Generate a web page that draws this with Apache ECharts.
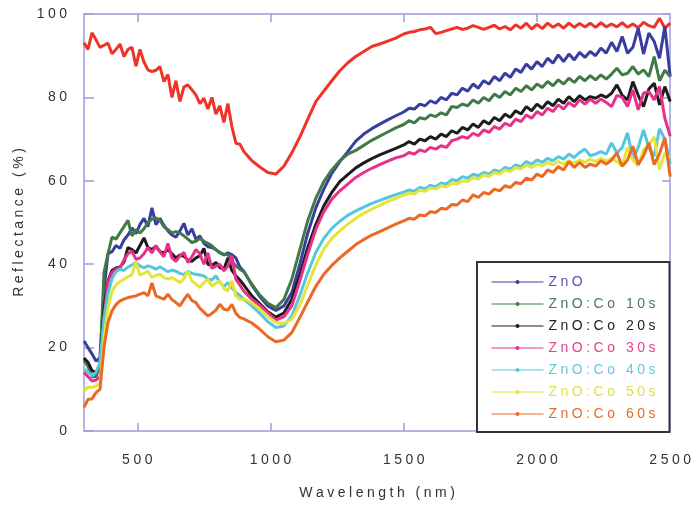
<!DOCTYPE html>
<html><head><meta charset="utf-8">
<script src="https://cdn.jsdelivr.net/npm/echarts@6/dist/echarts.min.js"></script>
<style>html,body{margin:0;padding:0;background:#fff}#c{width:694px;height:505px}</style>
</head><body><div id="c"></div>
<script>
// ---- DATA ----
const wavelength = [
  300,315,330,345,360,375,390,405,420,435,450,465,480,495,510,525,540,555,570,585,600,615,630,645,660,675,690,705,720,735,750,765,780,795,810,825,840,855,870,885,900,
  930,960,990,1020,1050,1080,1110,1140,1170,1200,1230,1260,1290,1320,1350,1380,1410,1440,1470,1500,
  1520,1540,1560,1580,1600,1620,1640,1660,1680,1700,1720,1740,1760,1780,1800,1820,1840,1860,1880,1900,1920,1940,1960,1980,2000,2020,2040,2060,2080,2100,2120,2140,2160,2180,2200,2220,2240,2260,2280,2300,2320,2340,2360,2380,2400,2420,2440,2460,2480,2500
];
const seriesNames = ['ZnO','ZnO:Co 10s','ZnO:Co 20s','ZnO:Co 30s','ZnO:Co 40s','ZnO:Co 50s','ZnO:Co 60s'];
const refName = 'Reference';
const refValues = [
  93.1,91.5,95.5,93.8,92,92.5,93,90.5,91.5,92.8,89.8,91.5,92,87.5,91.5,88.5,86.6,86.2,86.5,87.4,83.8,85.5,80,84,79,82.5,83,81.8,80.6,78.5,79.8,77.2,80,76,78,74,78.5,73,69,68.8,67,
  64.8,63.3,62,61.6,63.5,66.7,70.5,74.8,79,81.5,84,86.4,88.3,89.8,91,92.2,92.8,93.5,94.2,95.2,
  95.6,95.8,96.2,96.4,96.8,95.3,95.6,96,96.4,96.8,96.3,96.6,97.2,96.8,96.3,96.8,97.3,96.4,97,96.2,97.4,96.6,97.8,96.4,97.5,96.5,97.8,96.8,97.6,96.6,97.8,96.8,97.7,96.9,97.8,96.8,97.9,96.9,97.6,96.9,97.9,96.8,97.6,96.7,98,97.2,96.8,99,96.6,97.8
];
const znO = [
  21.6,20,18.5,16.8,17.5,34,42.5,43,44.5,43.8,45.8,47,48.7,47.3,49.5,51,49,53.5,49.5,51,49.3,48,47,46.5,48,49.8,47,48.5,46,46.8,45,44.2,44,43.5,42.8,42.2,42.7,42.3,41.5,39.3,38.3,
  35,32.2,30,28.9,30,33.2,40,47.5,53.5,58,61.8,64.6,67,69.5,71.2,72.5,73.6,74.6,75.6,76.5,
  77.4,77.2,78.4,78,79.2,78.6,80,79.4,81,80.6,82.2,81.5,83.2,82.2,84,83.2,85,84,85.8,84.8,86.8,86,88,86.8,88.6,87.4,89.4,88.2,90.2,88.6,90.4,89,90.8,89.6,91,90,91.8,90.6,93.2,91,94.6,90.6,92,96.6,90.4,95.4,93.4,89.4,97,85
];
const co10 = [
  17,15.5,13,13,16,38,42.5,46.5,46,47.5,49,50.5,46.8,48.3,47.5,48.5,50,50.8,51.1,50.5,49,48.3,47.5,47.8,47.5,46.8,46,45.2,45.5,46.2,45.5,45,44.4,43.5,42.7,42.4,42.3,40.6,39.6,38.8,38.2,
  35.2,32.6,30.6,29.6,31.5,36.4,43.5,50.5,55.8,59.8,62.6,64.8,66.4,67.3,68.5,69.7,70.7,71.7,72.7,73.5,
  74.4,73.9,75.1,74.8,75.8,75.4,76.3,75.8,77.8,77.6,78.4,78,79.4,78.6,80,79.2,80.8,80,81.4,80.6,82.2,81.4,82.8,81.8,83.2,82.4,83.8,82.8,84.2,83.2,84.6,83.6,85,84,85.2,84.2,85.4,84.4,85.6,87,85.4,85.8,87.4,85.6,86.6,85,89.8,84,86.5,85
];
const co20 = [
  17.5,16.5,14.5,14,15.6,29,36,38.5,39.1,39.3,40.5,44,43.5,42.7,44.5,46.3,44,43.5,44.3,43,42.7,43.5,42.5,41.5,42.2,41.9,41,40.7,41.5,42,43.8,40,39.7,40.4,39.2,38.8,41.5,38.5,37.2,36.2,35,
  32.4,30.5,28.6,27.3,28.3,31.6,37.5,44,49.5,54,57.2,59.8,61.5,63.1,64.3,65.3,66.2,67,67.8,68.6,
  69.4,68.8,70,69.6,70.6,70,71.2,70.6,72,71.4,72.8,72.2,73.6,72.8,74.4,73.6,75.2,74.4,76,75.2,76.8,76,77.8,76.8,78.4,77.4,79,78,79.6,78.6,80.2,79,80.4,79.4,80.2,79.8,80.6,80,81,83,80.5,79.4,83.8,80.5,77.8,82,83.4,78.2,82.6,79
];
const co30 = [
  14.1,13,12,12.2,13,27,35.8,38,38.8,39.1,41,42.5,43.1,41.2,41.5,42.5,44,42.7,44.5,43,41.8,45,41.5,40.7,42,42.8,40.4,41.8,43.5,42.5,40,42.7,39,39.5,40,38.4,39.5,42,36.4,35,33.5,
  31.6,30.1,28.4,26.6,27.4,30,36,42.5,48.4,52.6,55.6,57.6,59.2,60.8,62,63,63.9,64.7,65.5,66,
  66.8,66.4,67.4,67,68,67.6,68.4,68,69.6,70,70.6,70.2,71.4,70.8,72.2,71.6,73,72.4,73.8,73.2,74.8,74.2,75.8,75,76.6,75.8,77.4,76.6,78.2,77.2,78.8,77.8,79.4,78.4,79.6,78.6,79.6,78.8,77.8,80.5,80,77.8,81.8,77,81,81.4,79.4,82.6,75,70.7
];
const co40 = [
  14.8,14.2,13.2,14,16.5,27,33,36.5,38.2,38.8,38.5,39.3,39.8,40.4,39.6,39.1,39.6,39.3,38.8,39.4,38.8,38.2,38.6,38.3,37.8,37.5,38.3,37.8,37.6,37.4,37.2,36.4,36.2,37.2,35.6,34.6,35.6,34.3,33.2,32.5,31.6,
  30,28.2,26.2,24.8,25.2,27.6,32.5,38,42.8,46.2,48.6,50.3,51.7,52.8,53.7,54.6,55.3,56,56.7,57.3,
  57.8,57.5,58.4,58.1,58.9,58.6,59.5,59.2,60.3,60,61,60.6,61.6,61.2,62,61.6,62.6,62.2,63.2,62.8,63.8,63.4,64.6,64,65,64.4,65.4,64.8,65.8,65.2,66.4,65.6,66.8,67.6,66,66.4,67,66.4,69.1,66.7,68,71.5,65.1,68,72.2,68,65.9,72.5,70,64
];
const co50 = [
  9.6,10.5,10.5,10.8,11.5,22,29.5,33.5,35,35.8,36.4,37,37.5,40.5,37.4,37.8,38.3,36.8,37.3,37.6,36.8,36.4,36.8,36.2,35.6,36.5,38.3,36,35.2,34.4,35.6,36.4,34.8,35.4,36,34.2,33.6,36,32.4,31.6,31.6,
  30.7,29.2,27.4,26,25.8,26.8,30.2,35,39.8,43.6,46.2,48,49.6,51,52.2,53.2,54.1,55,55.8,56.6,
  57,56.8,57.8,57.5,58.3,58,58.8,58.5,59.4,59.2,60,59.8,60.8,60.4,61.4,61,62,61.6,62.6,62.2,63.2,62.8,63.8,63.2,64,63.6,64.4,63.8,64.6,64,64.8,64.2,65,64.4,65.2,64.6,65.4,64.8,65.4,64.6,63.5,68,65,63.6,67.5,68.6,70.5,62.7,66.7,65.5
];
const co60 = [
  5.7,7.6,7.7,9.2,10,20,26,28.8,30.3,31.2,31.6,32,32.2,32.4,32.8,33.2,32.4,35.5,32.4,32,31.6,32.8,31.5,30.8,30,31.5,32.8,31.3,30.8,29.4,28.5,27.6,28.2,29,30.4,29.2,29,30.4,28.2,27.2,26.9,
  25.9,24.4,22.6,21.4,21.8,23.6,27.2,31,34.7,37.6,39.7,41.5,43.1,44.7,45.9,47,47.8,48.7,49.6,50.4,
  51,50.8,51.8,51.6,52.6,52.4,53.4,53.2,54.3,54.2,55.4,55,56.6,56,57.2,56.8,58,57.6,58.8,58.4,59.6,59.3,60.6,60.2,61.6,61,62.6,62,63.4,62.6,64.6,63.2,64.4,63.2,64,63.5,64.8,64,65,66.7,63.5,65,68.3,63.9,66,69.1,63.9,66.5,70.3,61
];
const xLabelValues = [500,1000,1500,2000,2500];
const xTickValues = [500,1000,1500,2000];

// ---- STYLE ----
const lineColors = ['#383ea0','#3f7a47','#1c1c1c','#e8308a','#56c6e0','#e4e43a','#ea6a25'];
const legendTextColors = ['#5555b5','#4a7a52','#222222','#e8408f','#66c8e0','#e0e048','#e86a2a'];
const refColor = '#ee3327';
const frameColor = '#9d9ddc';
const sp = s => String(s).split('').join('\u2005');
const allVals = [znO, co10, co20, co30, co40, co50, co60];

const series = [{
  name: refName, type:'line', showSymbol:false, symbol:'none',
  data: wavelength.map((w,i)=>[w, refValues[i]]),
  lineStyle:{color:refColor, width:3}, itemStyle:{color:refColor}, z:2
}];
seriesNames.forEach((n,k)=>{
  series.push({
    name:n, type:'line', showSymbol:false, symbol:'circle', symbolSize:4,
    data: wavelength.map((w,i)=>[w, allVals[k][i]]),
    lineStyle:{color:lineColors[k], width:3}, itemStyle:{color:lineColors[k]}, z:3+k
  });
});

const axisTxt = {color:'#333', fontSize:14, fontFamily:'Liberation Sans, Arial, sans-serif'};
const chart = echarts.init(document.getElementById('c'), null, {renderer:'canvas'});
chart.setOption({
  animation:false,
  backgroundColor:'#fff',
  grid:{left:84, right:20, top:14, bottom:73},
  xAxis:[{
    type:'value', position:'bottom', min:300, max:2500,
    axisLine:{onZero:false, lineStyle:{color:frameColor, width:1.5}},
    axisTick:{inside:true, length:8, customValues:xTickValues, lineStyle:{color:frameColor, width:1.5}},
    axisLabel:Object.assign({margin:22, customValues:xLabelValues, formatter:v=>sp(v)}, axisTxt),
    splitLine:{show:false},
    name:sp('Wavelength (nm)'), nameLocation:'middle', nameGap:55,
    nameTextStyle:axisTxt
  },{
    type:'value', position:'top', min:300, max:2500,
    axisLine:{onZero:false, lineStyle:{color:frameColor, width:1.5}},
    axisTick:{inside:true, length:8, customValues:xTickValues, lineStyle:{color:frameColor, width:1.5}},
    axisLabel:{show:false}, splitLine:{show:false}
  }],
  yAxis:[{
    type:'value', position:'left', min:0, max:100, interval:20,
    axisLine:{show:true, onZero:false, lineStyle:{color:frameColor, width:1.5}},
    axisTick:{show:true, inside:true, length:10, lineStyle:{color:frameColor, width:1.5}},
    axisLabel:Object.assign({margin:17, formatter:v=>sp(v)}, axisTxt),
    splitLine:{show:false},
    name:sp('Reflectance (%)'), nameLocation:'middle', nameGap:58, nameRotate:90,
    nameTextStyle:axisTxt
  },{
    type:'value', position:'right', min:0, max:100, interval:20,
    axisLine:{show:true, onZero:false, lineStyle:{color:frameColor, width:1.5}},
    axisTick:{show:true, inside:true, length:8, lineStyle:{color:frameColor, width:1.5}},
    axisLabel:{show:false}, splitLine:{show:false}
  }],
  legend:{
    orient:'vertical', left:477, top:262,
    padding:[12,14,10,14],
    itemWidth:52, itemHeight:5, itemGap:6,
    borderColor:'#333', borderWidth:2, borderRadius:0, backgroundColor:'#fff',
    lineStyle:{width:1}, inactiveColor:'#ccc',
    selectedMode:false,
    formatter:n=>sp(n),
    textStyle:{fontSize:14, lineHeight:16, fontFamily:'Liberation Sans, Arial, sans-serif'},
    data: seriesNames.map((n,k)=>({name:n, textStyle:{color:legendTextColors[k]}}))
  },
  series: series
});
</script>
</body></html>
